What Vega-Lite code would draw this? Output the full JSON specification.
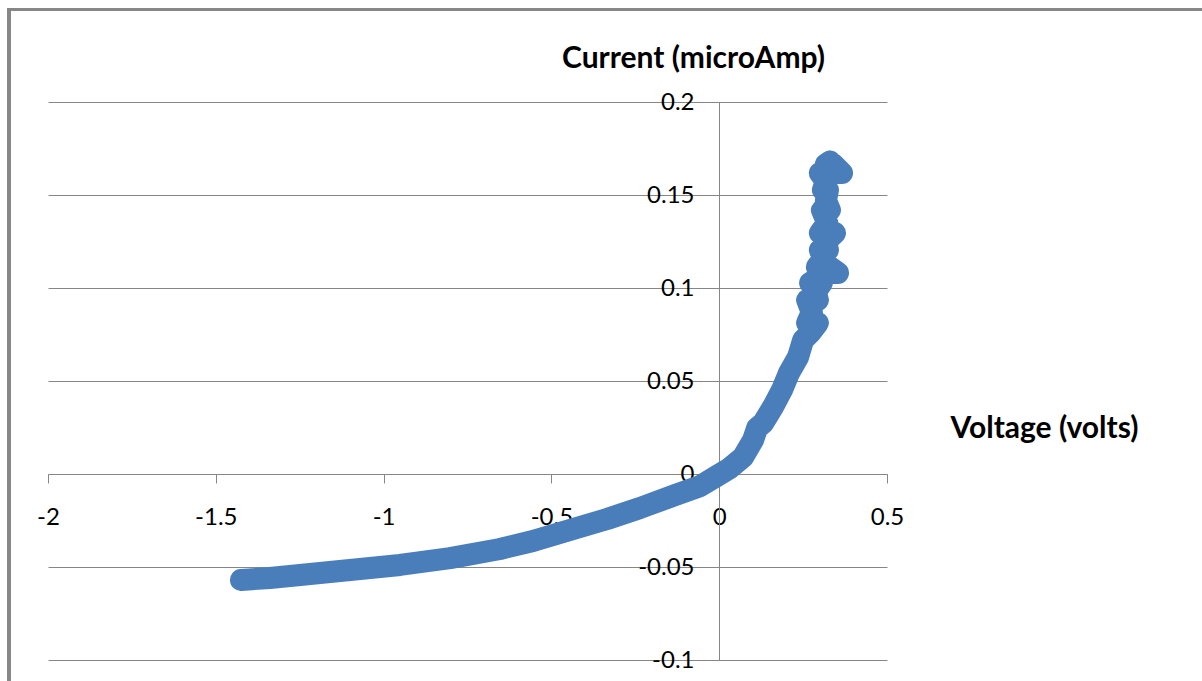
{
  "$schema": "https://vega.github.io/schema/vega-lite/v6.json",
  "width": 839,
  "height": 558,
  "autosize": {"type": "none"},
  "padding": {"left": 48, "top": 102, "right": 315, "bottom": 21},
  "background": "white",
  "config": {"view": {"stroke": null}, "font": "Lato"},
  "data": {
    "values": [
      {"i": 1, "v": -1.425, "c": -0.0570},
      {"i": 2, "v": -1.339, "c": -0.0559},
      {"i": 3, "v": -1.249, "c": -0.0543},
      {"i": 4, "v": -1.100, "c": -0.0516},
      {"i": 5, "v": -0.951, "c": -0.0489},
      {"i": 6, "v": -0.802, "c": -0.0452},
      {"i": 7, "v": -0.653, "c": -0.0403},
      {"i": 8, "v": -0.555, "c": -0.0360},
      {"i": 9, "v": -0.445, "c": -0.0301},
      {"i": 10, "v": -0.334, "c": -0.0242},
      {"i": 11, "v": -0.236, "c": -0.0183},
      {"i": 12, "v": -0.138, "c": -0.0118},
      {"i": 13, "v": -0.057, "c": -0.0065},
      {"i": 14, "v": -0.007, "c": -0.0011},
      {"i": 15, "v": 0.032, "c": 0.0032},
      {"i": 16, "v": 0.071, "c": 0.0091},
      {"i": 17, "v": 0.101, "c": 0.0183},
      {"i": 18, "v": 0.113, "c": 0.0247},
      {"i": 19, "v": 0.131, "c": 0.0274},
      {"i": 20, "v": 0.160, "c": 0.0360},
      {"i": 21, "v": 0.187, "c": 0.0452},
      {"i": 22, "v": 0.208, "c": 0.0543},
      {"i": 23, "v": 0.235, "c": 0.0629},
      {"i": 24, "v": 0.250, "c": 0.0720},
      {"i": 25, "v": 0.271, "c": 0.0758},
      {"i": 26, "v": 0.294, "c": 0.0812},
      {"i": 27, "v": 0.278, "c": 0.0812},
      {"i": 28, "v": 0.262, "c": 0.0812},
      {"i": 29, "v": 0.276, "c": 0.0870},
      {"i": 30, "v": 0.262, "c": 0.0935},
      {"i": 31, "v": 0.280, "c": 0.0935},
      {"i": 32, "v": 0.294, "c": 0.0935},
      {"i": 33, "v": 0.288, "c": 0.0980},
      {"i": 34, "v": 0.306, "c": 0.1027},
      {"i": 35, "v": 0.290, "c": 0.1027},
      {"i": 36, "v": 0.271, "c": 0.1027},
      {"i": 37, "v": 0.320, "c": 0.1081},
      {"i": 38, "v": 0.354, "c": 0.1081},
      {"i": 39, "v": 0.330, "c": 0.1113},
      {"i": 40, "v": 0.310, "c": 0.1113},
      {"i": 41, "v": 0.291, "c": 0.1113},
      {"i": 42, "v": 0.312, "c": 0.1160},
      {"i": 43, "v": 0.300, "c": 0.1204},
      {"i": 44, "v": 0.312, "c": 0.1204},
      {"i": 45, "v": 0.324, "c": 0.1204},
      {"i": 46, "v": 0.318, "c": 0.1250},
      {"i": 47, "v": 0.345, "c": 0.1296},
      {"i": 48, "v": 0.322, "c": 0.1296},
      {"i": 49, "v": 0.300, "c": 0.1296},
      {"i": 50, "v": 0.322, "c": 0.1350},
      {"i": 51, "v": 0.306, "c": 0.1419},
      {"i": 52, "v": 0.318, "c": 0.1419},
      {"i": 53, "v": 0.330, "c": 0.1419},
      {"i": 54, "v": 0.318, "c": 0.1470},
      {"i": 55, "v": 0.324, "c": 0.1527},
      {"i": 56, "v": 0.318, "c": 0.1527},
      {"i": 57, "v": 0.309, "c": 0.1527},
      {"i": 58, "v": 0.318, "c": 0.1575},
      {"i": 59, "v": 0.300, "c": 0.1618},
      {"i": 60, "v": 0.333, "c": 0.1618},
      {"i": 61, "v": 0.366, "c": 0.1618},
      {"i": 62, "v": 0.340, "c": 0.1665},
      {"i": 63, "v": 0.318, "c": 0.1665},
      {"i": 64, "v": 0.330, "c": 0.1680}
    ]
  },
  "layer": [
    {
      "mark": {"type": "line", "color": "#4A7EBB", "strokeWidth": 22, "strokeCap": "round", "strokeJoin": "round"},
      "encoding": {
        "x": {
          "field": "v", "type": "quantitative",
          "scale": {"domain": [-2, 0.5], "nice": false, "zero": false},
          "axis": {
            "orient": "bottom", "offset": -186,
            "values": [-2, -1.5, -1, -0.5, 0, 0.5],
            "labelExpr": "'' + datum.value",
            "grid": false,
            "domainColor": "#868686", "domainWidth": 1,
            "tickColor": "#868686", "tickSize": 9, "tickWidth": 1,
            "labelFont": "Lato", "labelFontSize": 24, "labelColor": "#000000",
            "labelPadding": 22, "labelBaseline": "top", "labelFlush": false, "labelOverlap": false,
            "title": "Voltage (volts)", "titleFont": "Lato", "titleFontSize": 30, "titleFontWeight": "bold",
            "titleColor": "#000000", "titleX": 996, "titleY": -37, "titleAlign": "center", "titleBaseline": "alphabetic"
          }
        },
        "y": {
          "field": "c", "type": "quantitative",
          "scale": {"domain": [-0.1, 0.2], "nice": false, "zero": false},
          "axis": {
            "orient": "left", "offset": -671,
            "values": [-0.1, -0.05, 0, 0.05, 0.1, 0.15, 0.2],
            "labelExpr": "'' + datum.value",
            "grid": true, "gridColor": "#868686", "gridWidth": 1,
            "domainColor": "#868686", "domainWidth": 1,
            "ticks": false, "tickSize": 0,
            "labelFont": "Lato", "labelFontSize": 24, "labelColor": "#000000",
            "labelPadding": 25, "labelFlush": false, "labelOverlap": false,
            "title": "Current (microAmp)", "titleFont": "Lato", "titleFontSize": 30, "titleFontWeight": "bold",
            "titleColor": "#000000", "titleAngle": 0, "titleX": -26, "titleY": -35, "titleAlign": "center", "titleBaseline": "alphabetic"
          }
        },
        "order": {"field": "i", "type": "quantitative"}
      }
    },
    {
      "mark": {"type": "point", "shape": "diamond", "filled": true, "color": "#4A7EBB", "size": 500, "opacity": 1},
      "encoding": {
        "x": {"field": "v", "type": "quantitative"},
        "y": {"field": "c", "type": "quantitative"}
      }
    },
    {
      "mark": {"type": "rule", "color": "#878787", "strokeWidth": 3},
      "encoding": {
        "x": {"datum": -2.1162, "type": "quantitative"},
        "y": {"datum": 0.2497, "type": "quantitative"},
        "y2": {"datum": -0.2}
      }
    },
    {
      "mark": {"type": "rule", "color": "#878787", "strokeWidth": 3},
      "encoding": {
        "x": {"datum": -2.12, "type": "quantitative"},
        "x2": {"datum": 1.6},
        "y": {"datum": 0.2497, "type": "quantitative"}
      }
    }
  ]
}
